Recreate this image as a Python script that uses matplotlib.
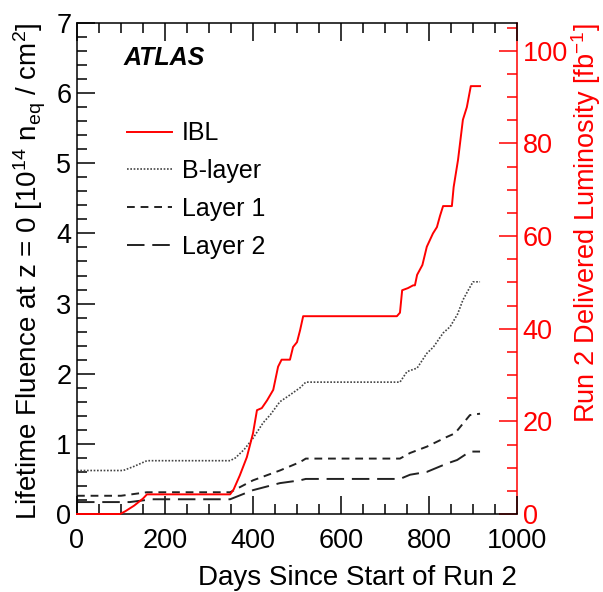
import matplotlib
matplotlib.use("Agg")
import matplotlib.pyplot as plt
from matplotlib.ticker import MultipleLocator

plt.rcParams['font.family'] = ['Liberation Sans', 'DejaVu Sans']
plt.rcParams['mathtext.fontset'] = 'custom'
plt.rcParams['mathtext.rm'] = 'Liberation Sans'
plt.rcParams['mathtext.it'] = 'Liberation Sans:italic'

# ---- data ----
ibl_days = [0, 98, 110, 130, 150, 159, 348, 356, 370, 386, 400, 409, 420, 432, 446, 457, 465,
            484, 491, 500, 507, 514, 727, 734, 739, 752, 764, 768, 773, 785, 795, 809, 818,
            825, 832, 852, 856, 866, 877, 886, 895, 916]
ibl_flu = [0, 0, 0.04, 0.12, 0.22, 0.28, 0.28, 0.35, 0.55, 0.81, 1.15, 1.48, 1.51, 1.62, 1.77,
           2.1, 2.2, 2.2, 2.38, 2.45, 2.62, 2.82, 2.82, 2.87, 3.19, 3.22, 3.26, 3.26, 3.41, 3.55,
           3.81, 4.0, 4.09, 4.25, 4.39, 4.39, 4.66, 5.05, 5.62, 5.8, 6.1, 6.1]

bl_days = [0, 105, 130, 159, 348, 360, 380, 400, 423, 440, 461, 480, 507, 520, 734, 750, 773,
           795, 810, 832, 848, 865, 877, 890, 900, 916]
bl_flu = [0.62, 0.62, 0.68, 0.76, 0.76, 0.8, 0.92, 1.08, 1.3, 1.42, 1.6, 1.68, 1.8, 1.88, 1.88,
          2.03, 2.08, 2.29, 2.38, 2.58, 2.67, 2.85, 3.05, 3.2, 3.31, 3.31]

l1_days = [0, 100, 159, 348, 400, 461, 507, 520, 734, 757, 795, 841, 859, 893, 916]
l1_flu = [0.26, 0.26, 0.31, 0.31, 0.48, 0.62, 0.74, 0.79, 0.79, 0.87, 0.96, 1.10, 1.15, 1.41, 1.43]

l2_days = [0, 120, 170, 348, 400, 461, 507, 520, 734, 757, 795, 841, 864, 893, 916]
l2_flu = [0.17, 0.17, 0.21, 0.21, 0.34, 0.44, 0.48, 0.50, 0.50, 0.56, 0.60, 0.72, 0.77, 0.89, 0.89]

labels = ["IBL", "B-layer", "Layer 1", "Layer 2"]

fig = plt.figure(figsize=(6.03, 5.92), dpi=100)
ax = fig.add_axes([77/603, 78/592, 440/603, 491/592])

ax.set_xlim(0, 1000)
ax.set_ylim(0, 7)
ax.xaxis.set_major_locator(MultipleLocator(200))
ax.xaxis.set_minor_locator(MultipleLocator(50))
ax.yaxis.set_major_locator(MultipleLocator(1))
ax.yaxis.set_minor_locator(MultipleLocator(0.2))
ax.tick_params(axis='x', which='both', direction='in', top=True, bottom=True, labelsize=19.5, pad=10)
ax.tick_params(axis='y', which='both', direction='in', left=True, right=False, labelsize=19.5, pad=4)
ax.tick_params(which='major', length=13, width=1.1)
ax.tick_params(which='minor', length=7, width=1.1)
for s in ['left', 'bottom', 'top']:
    ax.spines[s].set_linewidth(1.1)
ax.spines['right'].set_visible(False)

ax.set_xlabel("Days Since Start of Run 2", fontsize=20, loc='right', labelpad=8)
ax.set_ylabel(r"Lifetime Fluence at z = 0 [10$^{14}$ n$_{\mathregular{eq}}$ / cm$^{2}$]",
              fontsize=20, loc='top', labelpad=6)

ax2 = ax.twinx()
ax2.set_ylim(0, 106)
ax2.yaxis.set_major_locator(MultipleLocator(20))
ax2.yaxis.set_minor_locator(MultipleLocator(5))
ax2.tick_params(axis='y', which='both', direction='in', colors='red', labelsize=19.5, pad=4)
ax2.tick_params(which='major', length=13, width=1.1)
ax2.tick_params(which='minor', length=7, width=1.1)
for s in ['left', 'bottom', 'top']:
    ax2.spines[s].set_visible(False)
ax2.spines['right'].set_color('red')
ax2.spines['right'].set_linewidth(1.1)
ax2.set_ylabel(r"Run 2 Delivered Luminosity [fb$^{-1}$]", color='red', fontsize=19.5,
               loc='top', labelpad=1)

# data axes on top so nothing covers the lines
ax.set_zorder(ax2.get_zorder() + 1)
ax.patch.set_visible(False)

ax.plot(ibl_days, ibl_flu, color='red', lw=1.4, label=labels[0], zorder=5, clip_on=False)
ax.plot(bl_days, bl_flu, color='#444444', lw=1.2, ls=(0, (1, 1)), label=labels[1])
ax.plot(l1_days, l1_flu, color='#222222', lw=1.4, ls=(0, (4, 3)), label=labels[2])
ax.plot(l2_days, l2_flu, color='#222222', lw=1.4, ls=(0, (9, 4)), label=labels[3])

ax.text(0.105, 0.928, "ATLAS", transform=ax.transAxes, fontsize=18, fontweight='bold',
        fontstyle='italic', va='center', ha='left')

leg = ax.legend(loc='upper left', bbox_to_anchor=(0.09, 0.82), frameon=False, fontsize=18,
                handlelength=1.8, handletextpad=0.4, labelspacing=0.55, borderaxespad=0)

fig.savefig("out.png", dpi=100)
